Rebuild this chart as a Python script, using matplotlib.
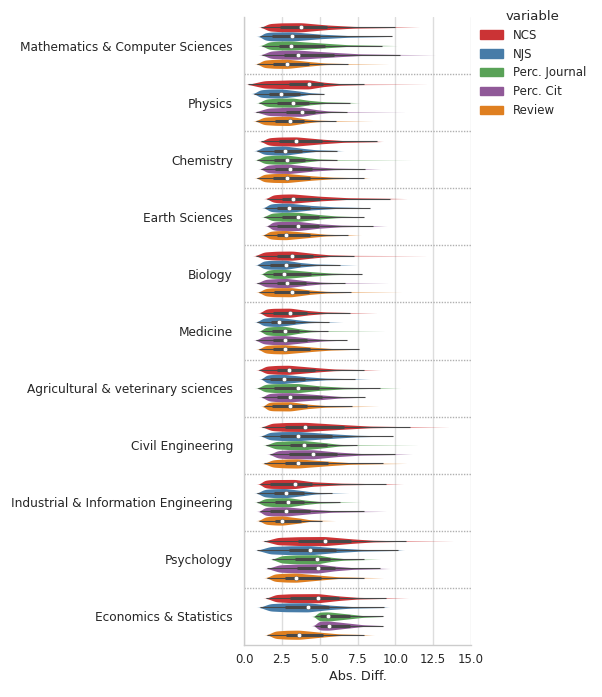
import numpy as np
import matplotlib
matplotlib.use("Agg")
import matplotlib.pyplot as plt
import seaborn as sns
from matplotlib.patches import Patch

sns.set_theme(style="whitegrid")
plt.rcParams['font.family'] = ['DejaVu Sans']

categories = ["Mathematics & Computer Sciences", "Physics", "Chemistry", "Earth Sciences",
              "Biology", "Medicine", "Agricultural & veterinary sciences", "Civil Engineering",
              "Industrial & Information Engineering", "Psychology", "Economics & Statistics"]
variables = ["NCS", "NJS", "Perc. Journal", "Perc. Cit", "Review"]
x_ticks = [0.0, 2.5, 5.0, 7.5, 10.0, 12.5, 15.0]

# per category: values for NCS, NJS, Perc. Journal, Perc. Cit, Review
v_min = [[1.14, 1.03, 1.16, 1.16, 0.88], [0.26, 0.66, 0.99, 0.77, 0.77], [1.14, 0.83, 0.88, 1.14, 0.88],
         [1.50, 1.36, 1.32, 1.60, 1.32], [0.77, 0.92, 1.25, 0.88, 0.99], [1.10, 0.88, 1.10, 0.81, 0.99],
         [0.99, 1.21, 0.92, 1.21, 1.32], [1.21, 1.16, 1.43, 1.71, 1.32], [1.05, 0.88, 0.88, 1.05, 0.99],
         [1.32, 0.88, 1.86, 1.54, 1.50], [1.47, 1.03, 4.70, 4.70, 1.54]]
v_q1 = [[2.41, 1.86, 2.30, 2.63, 1.93], [2.96, 1.64, 2.15, 2.80, 2.08], [2.30, 1.97, 1.97, 2.08, 1.90],
        [2.52, 2.19, 2.52, 2.15, 2.15], [2.15, 1.71, 1.90, 2.15, 1.97], [1.90, 1.80, 1.86, 1.93, 1.93],
        [2.15, 1.75, 1.97, 2.19, 1.86], [2.74, 2.41, 3.03, 2.96, 2.74], [1.75, 1.97, 2.08, 1.75, 2.02],
        [3.60, 3.00, 3.40, 3.50, 2.74], [3.07, 2.74, 5.04, 5.04, 2.80]]
v_med = [[3.77, 3.16, 3.11, 3.55, 2.87], [4.30, 2.46, 3.25, 3.82, 3.03], [3.46, 2.70, 2.87, 3.03, 2.83],
         [3.22, 2.96, 3.57, 3.60, 2.80], [3.20, 2.76, 2.65, 2.83, 3.14], [3.05, 2.32, 2.72, 2.72, 2.68],
         [2.96, 2.63, 3.57, 3.05, 3.07], [4.06, 3.60, 3.99, 4.56, 3.55], [3.36, 2.76, 2.94, 2.79, 2.54],
         [5.33, 4.36, 4.82, 4.87, 3.46], [4.89, 4.25, 5.55, 5.60, 3.64]]
v_q3 = [[5.50, 5.04, 5.37, 5.92, 4.28], [5.20, 3.73, 4.28, 4.71, 3.95], [5.15, 3.84, 4.06, 4.50, 4.39],
        [5.04, 4.39, 4.93, 4.93, 4.39], [4.56, 3.68, 4.43, 4.12, 4.28], [4.17, 3.40, 3.62, 4.17, 4.39],
        [4.71, 4.06, 4.93, 5.15, 4.17], [6.58, 5.81, 5.48, 6.14, 5.53], [4.50, 3.99, 3.99, 4.39, 3.77],
        [7.10, 6.10, 5.66, 6.00, 5.10], [6.25, 5.60, 7.00, 7.00, 5.20]]
v_whisker = [[9.98, 9.76, 9.10, 10.3, 6.90], [7.90, 5.26, 7.00, 6.80, 6.10], [8.77, 6.14, 6.14, 8.00, 7.90],
             [9.65, 8.33, 7.90, 8.55, 6.90], [7.24, 6.36, 7.80, 6.70, 7.10], [7.00, 5.60, 5.53, 6.80, 7.63],
             [7.90, 7.35, 9.00, 8.00, 7.13], [10.96, 9.82, 7.46, 9.98, 9.20], [9.36, 5.80, 6.36, 7.90, 5.15],
             [10.7, 10.2, 7.90, 9.00, 7.90], [9.40, 9.25, 9.20, 9.20, 7.90]]
v_max = [[11.6, 9.76, 10.1, 12.7, 9.60], [12.2, 5.26, 7.60, 10.75, 8.55], [9.10, 6.50, 11.2, 9.00, 8.20],
         [10.75, 8.33, 7.90, 9.40, 7.70], [12.2, 7.46, 7.80, 9.60, 10.5], [8.80, 6.50, 9.40, 6.80, 7.63],
         [9.00, 8.30, 10.3, 8.00, 8.90], [13.6, 9.82, 11.6, 11.1, 10.75], [10.5, 6.90, 7.70, 9.40, 6.00],
         [13.9, 10.5, 9.00, 9.60, 9.20], [10.85, 9.50, 9.20, 9.20, 8.55]]

palette = sns.color_palette("Set1", 5, desat=0.75)
gray = "#484848"

# relative violin width at each summary point (style only)
W_RISE, W_Q1, W_MED, W_Q3, W_MID, W_HI = 0.8, 0.96, 1.0, 0.5, 0.18, 0.05


def violin_profile(lo, q1, med, q3, hi, ext, step=0.01, sigma=0.12):
    rise = lo + 0.4 * (q1 - lo)
    mid = q3 + 0.4 * (hi - q3)
    kx = [lo, rise, q1, med, q3, mid, hi]
    kw = [0.0, W_RISE, W_Q1, W_MED, W_Q3, W_MID, W_HI]
    if ext > hi + 0.05:
        kx.append(ext)
        kw.append(0.0)
    else:
        kw[-1] = 0.0
    grid = np.arange(lo - 0.5, max(kx) + 0.5, step)
    w = np.interp(grid, kx, kw, left=0.0, right=0.0)
    k = np.arange(-4 * sigma, 4 * sigma + step, step)
    ker = np.exp(-0.5 * (k / sigma) ** 2)
    ker /= ker.sum()
    w = np.convolve(w, ker, mode="same")
    keep = w > 2e-3
    return grid[keep], w[keep] / w.max()


fig = plt.figure(figsize=(6.02, 6.97), dpi=100)
ax = fig.add_axes([244 / 602, 1 - 645 / 697, 227 / 602, 628 / 697])

n_var = len(variables)
slot = 0.8 / n_var
for ci, cat in enumerate(categories):
    for vi in range(n_var):
        center = ci - 0.4 + slot * (vi + 0.5)
        lo, q1, med = v_min[ci][vi], v_q1[ci][vi], v_med[ci][vi]
        q3, hi, ext = v_q3[ci][vi], v_whisker[ci][vi], v_max[ci][vi]
        g, w = violin_profile(lo, q1, med, q3, hi, ext)
        w = w * slot / 2
        ax.fill_between(g, center - w, center + w, color=palette[vi], lw=0, zorder=2)
        ax.plot([lo, hi], [center, center], color=gray, lw=0.8, zorder=3, solid_capstyle="butt")
        ax.plot([q1, q3], [center, center], color=gray, lw=2.2, zorder=3, solid_capstyle="butt")
        ax.scatter([med], [center], s=10, color="white", edgecolor=gray, linewidth=0.3, zorder=4)

for b in np.arange(0.5, len(categories) - 0.5, 1.0):
    ax.axhline(b, color="#b0b0b0", lw=1.0, ls=(0, (1, 1)), zorder=1)

ax.set_xlim(0, 15)
ax.set_ylim(len(categories) - 0.5, -0.5)
ax.set_xticks(x_ticks)
ax.set_xticklabels([f"{t:.1f}" for t in x_ticks])
ax.set_yticks(range(len(categories)))
ax.set_yticklabels(categories)
ax.grid(axis="y", visible=False)
ax.grid(axis="x", color="#dddddd", lw=1.0)
ax.tick_params(axis="y", length=0, pad=8, labelsize=8.7, colors="#262626")
ax.tick_params(axis="x", length=0, pad=6, labelsize=8.5, colors="#262626")
ax.set_xlabel("Abs. Diff.", fontsize=9.3, color="#262626", labelpad=3)
ax.set_ylabel("")
for s in ["top", "right"]:
    ax.spines[s].set_visible(False)
for s in ["left", "bottom"]:
    ax.spines[s].set_color("#cccccc")
    ax.spines[s].set_linewidth(1.0)

handles = [Patch(facecolor=palette[i], edgecolor=palette[i], label=v) for i, v in enumerate(variables)]
leg = ax.legend(handles=handles, title="variable", loc="upper left", bbox_to_anchor=(1.018, 1.019),
                borderaxespad=0, frameon=False, fontsize=8.5, title_fontsize=9.5)
for t in leg.get_texts():
    t.set_color("#262626")
leg.get_title().set_color("#262626")

fig.savefig("out.png", dpi=100)
